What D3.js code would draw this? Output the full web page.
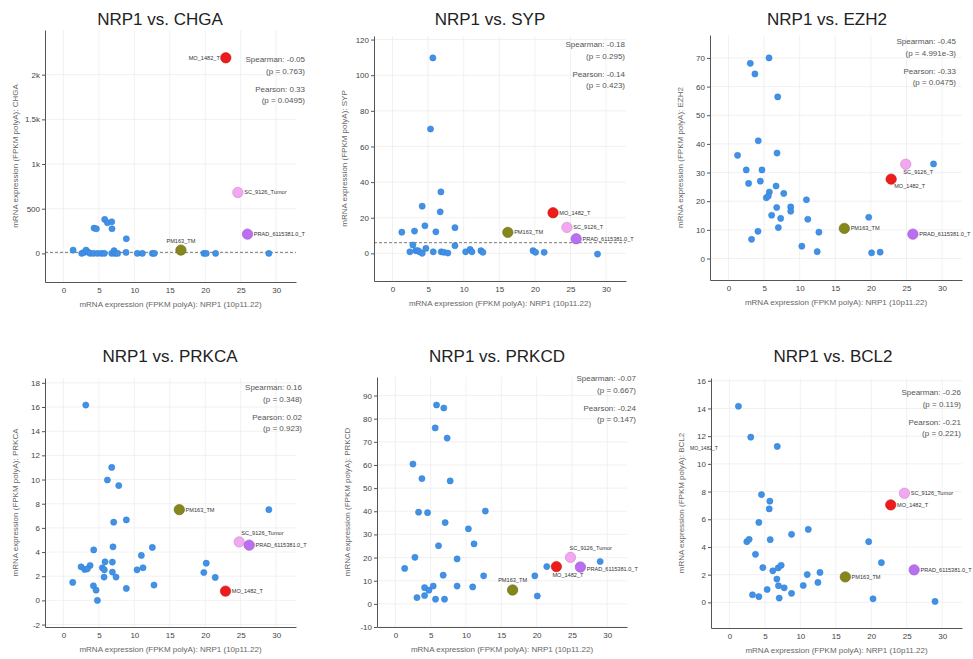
<!DOCTYPE html>
<html>
<head>
<meta charset="UTF-8">
<title>NRP1 correlations</title>
<script src="https://d3js.org/d3.v7.min.js"></script>
<style>
  body { margin: 0; background: #fff; }
  svg { font-family: "Liberation Sans", Arial, sans-serif; }
</style>
</head>
<body>
<script>
// ---- data (x = NRP1 FPKM, y = gene FPKM) ----
const nrp1Ticks = [0, 5, 10, 15, 20, 25, 30];

const chgaPoints = [[1.36,37],[2.58,0],[2.91,11],[3.19,37],[3.47,15],[3.76,0],[4.32,283],[4.65,276],[4.23,0],[4.79,0],
  [5.35,0],[5.77,0],[5.82,380],[6.2,343],[6.81,354],[6.85,276],[6.81,0],[7.14,30],[7.28,0],[7.65,0],
  [8.87,164],[8.83,11],[10.42,0],[11.13,0],[12.54,0],[12.82,0],[19.81,0],[20.14,0],[21.46,0],[28.97,0]];
const sypPoints = [[5.67,109.7],[5.34,69.8],[6.8,34.5],[4.17,26.5],[6.7,23.3],[1.31,11.9],[3.09,12.5],[4.55,15.5],[6.09,12.1],[8.77,14.4],
  [2.86,4.7],[8.77,4.3],[2.44,0.9],[3.28,1.5],[3.56,1.5],[3.8,0.9],[4.17,0],[4.69,2.8],[5.72,0.9],[6.84,0.9],[7.22,0.6],[7.78,0.2],
  [10.27,0.9],[10.9,2.2],[11.16,0.9],[12.42,1.5],[12.7,0.6],[19.74,1.5],[20.1,0.6],[21.3,0.6],[28.8,-0.4]];
const ezh2Points = [[1.27,36.0],[3.06,68.1],[3.71,64.4],[5.69,70.0],[6.91,56.4],[4.18,41.1],[6.82,36.8],[2.49,30.9],[4.7,30.9],[2.82,26.2],
  [4.47,27.0],[6.68,25.3],[5.74,23.2],[5.31,21.2],[5.59,21.8],[7.76,22.7],[6.77,17.8],[6.06,15.1],[7.33,14.0],[8.74,18.0],
  [8.74,16.5],[10.95,20.5],[11.14,13.7],[7.0,10.8],[4.14,9.5],[3.24,6.7],[10.3,4.3],[12.7,9.2],[12.46,2.4],[19.7,14.4],
  [20.1,2.0],[21.3,2.2],[28.8,33.0]];
const prkcaPoints = [[3.15,16.16],[6.81,11.0],[6.2,9.96],[7.8,9.5],[28.97,7.51],[8.87,6.66],[7.09,6.47],[4.27,4.18],[6.99,4.43],[12.54,4.38],
  [10.99,3.72],[6.9,3.17],[5.87,3.19],[20.14,3.08],[2.49,2.78],[3.76,2.89],[3.0,2.56],[3.38,2.61],[5.49,2.7],[5.77,2.53],
  [6.9,2.34],[10.38,2.53],[11.22,2.7],[19.8,2.31],[5.73,1.93],[7.42,1.93],[21.41,1.9],[1.31,1.49],[4.23,1.21],[4.6,0.85],
  [8.87,0.99],[12.77,1.27],[4.79,0]];
const prkcdPoints = [[1.32,15.3],[2.77,20.1],[2.49,60.4],[3.76,54.1],[3.29,39.6],[4.56,39.4],[5.83,85.9],[6.86,84.6],[5.64,76.0],[7.33,71.6],
  [7.76,53.1],[7.05,35.1],[6.11,25.1],[6.77,12.4],[8.74,19.4],[10.34,32.4],[11.14,25.9],[12.74,40.1],[12.5,12.1],[10.95,7.3],
  [8.74,7.7],[5.36,7.7],[4.14,7.0],[4.75,5.9],[4.14,3.6],[3.06,2.7],[5.69,2.0],[6.96,2.0],[19.75,12.1],[20.1,3.4],
  [21.44,16.1],[29.0,18.3]];
const bcl2Points = [[1.27,14.16],[3.01,11.93],[6.74,11.26],[4.52,7.78],[5.7,7.31],[5.61,6.75],[4.15,5.77],[8.76,4.91],[11.12,5.27],[19.64,4.38],
  [2.45,4.38],[2.78,4.55],[5.75,4.53],[3.67,3.47],[21.43,2.87],[4.71,2.51],[6.12,2.28],[6.88,2.49],[7.3,2.68],[12.77,2.16],
  [10.97,2.01],[6.69,1.68],[12.48,1.44],[6.92,1.2],[7.72,1.05],[10.41,1.22],[5.32,0.93],[3.25,0.55],[4.15,0.41],[8.76,0.65],
  [7.02,0.31],[20.25,0.26],[29.0,0.07]];

// highlighted samples: [sample key, label, x, y]
const chgaSpecials  = [["MO","MO_1482_T",22.9,2189],["SC","SC_9126_Tumor",24.6,682],["PRAD","PRAD_6115381.0_T",25.96,216],["PM","PM163_TM",16.57,37]];
const sypSpecials   = [["MO","MO_1482_T",22.55,22.8],["SC","SC_9126_T",24.5,14.6],["PRAD","PRAD_6115381.0_T",25.8,8.2],["PM","PM163_TM",16.2,11.8]];
const ezh2Specials  = [["MO","MO_1482_T",22.85,27.7],["SC","SC_9126_T",24.9,32.9],["PRAD","PRAD_6115381.0_T",25.9,8.5],["PM","PM163_TM",16.27,10.5]];
const prkcaSpecials = [["MO","MO_1482_T",22.86,0.77],["SC","SC_9126_Tumor",24.79,4.84],["PRAD","PRAD_6115381.0_T",26.2,4.57],["PM","PM163_TM",16.34,7.51]];
const prkcdSpecials = [["MO","MO_1482_T",22.8,16.1],["SC","SC_9126_Tumor",24.8,20.1],["PRAD","PRAD_6115381.0_T",26.2,15.9],["PM","PM163_TM",16.6,6.0]];
const bcl2Specials  = [["MO","MO_1482_T",22.75,7.04],["SC","SC_9126_Tumor",24.68,7.88],["PRAD","PRAD_6115381.0_T",26.05,2.35],["PM","PM163_TM",16.34,1.84]];

const chgaTicks  = [0, 500, 1000, 1500, 2000];
const sypTicks   = [0, 20, 40, 60, 80, 100, 120];
const ezh2Ticks  = [0, 10, 20, 30, 40, 50, 60, 70];
const prkcaTicks = [-2, 0, 2, 4, 6, 8, 10, 12, 14, 16, 18];
const prkcdTicks = [-10, 0, 10, 20, 30, 40, 50, 60, 70, 80, 90];
const bcl2Ticks  = [0, 2, 4, 6, 8, 10, 12, 14, 16];

const spearman = [["-0.05","0.763"],["-0.18","0.295"],["-0.45","4.991e-3"],["0.16","0.348"],["-0.07","0.667"],["-0.26","0.119"]];
const pearson  = [["0.33","0.0495"],["-0.14","0.423"],["-0.33","0.0475"],["0.02","0.923"],["-0.24","0.147"],["-0.21","0.221"]];
const refLines = [12, 6.0, null, null, null, null];

const genes = ["CHGA", "SYP", "EZH2", "PRKCA", "PRKCD", "BCL2"];

// ---- styling / layout ----
const colors = {
  MO:   ["#ee1b1b", "#c80f0f"],
  SC:   ["#f2a8f0", "#cc84cc"],
  PRAD: ["#ba6ff0", "#9a52d2"],
  PM:   ["#85861c", "#67680f"]
};
const blueFill = "#4191e6", blueStroke = "#2f7dd4";

const layout = [
  { box: [45, 30, 251, 252],  yDomain: [-320, 2500], statX: 305, statY: 62,  titleX: 160, titleY: 25 },
  { box: [374, 36, 252, 245], yDomain: [-15.5, 122], statX: 625, statY: 47,  titleX: 490, titleY: 25 },
  { box: [710, 35, 252, 245], yDomain: [-7.5, 78],   statX: 956, statY: 44,  titleX: 827, titleY: 25 },
  { box: [45, 378, 251, 249], yDomain: [-2.2, 18.4], statX: 302, statY: 390, titleX: 170, titleY: 362 },
  { box: [377, 377, 250, 250],yDomain: [-10, 98],    statX: 636, statY: 381, titleX: 497, titleY: 362 },
  { box: [711, 378, 251, 250],yDomain: [-1.85, 16.2],statX: 961, statY: 395, titleX: 833, titleY: 362 }
];

// label placement [dx, dy, anchor] per sample, per panel
const labelPlace = [
  { MO: [-6, 2, "end"], SC: [6.3, 2, "start"], PRAD: [6.3, 2, "start"], PM: [0, -7.5, "middle"] },
  { MO: [6.3, 2, "start"], SC: [6.3, 2, "start"], PRAD: [6.3, 2, "start"], PM: [6.3, 2, "start"] },
  { MO: [3, 9, "start"], SC: [-2.5, 9.5, "start"], PRAD: [6.3, 2, "start"], PM: [6.3, 2, "start"] },
  { MO: [6.3, 2, "start"], SC: [2, -7, "start"], PRAD: [6.3, 2, "start"], PM: [6.3, 2, "start"] },
  { MO: [-4, 10.5, "start"], SC: [-1, -7, "start"], PRAD: [6.3, 3.5, "start"], PM: [0, -7.5, "middle"] },
  { MO: [6.3, 2, "start"], SC: [6.3, 2, "start"], PRAD: [6.3, 2, "start"], PM: [6.3, 2, "start"] }
];

const allPoints = [chgaPoints, sypPoints, ezh2Points, prkcaPoints, prkcdPoints, bcl2Points];
const allSpecials = [chgaSpecials, sypSpecials, ezh2Specials, prkcaSpecials, prkcdSpecials, bcl2Specials];
const allTicks = [chgaTicks, sypTicks, ezh2Ticks, prkcaTicks, prkcdTicks, bcl2Ticks];

const svg = d3.select("body").append("svg")
  .attr("width", 973)
  .attr("height", 659);

function drawPanel(i) {
  const L = layout[i];
  const [left, top, w, h] = L.box;

  const x = d3.scaleLinear().domain([-2.6, 32.8]).range([0, w]);
  const y = d3.scaleLinear().domain(L.yDomain).range([h, 0]);

  const g = svg.append("g").attr("transform", "translate(" + left + "," + top + ")");

  // grid
  g.append("g").selectAll("line").data(nrp1Ticks).join("line")
    .attr("x1", d => x(d)).attr("x2", d => x(d)).attr("y1", 0).attr("y2", h)
    .attr("stroke", "#eeeeee").attr("stroke-width", 0.8);
  g.append("g").selectAll("line").data(allTicks[i]).join("line")
    .attr("y1", d => y(d)).attr("y2", d => y(d)).attr("x1", 0).attr("x2", w)
    .attr("stroke", "#eeeeee").attr("stroke-width", 0.8);

  // axes
  const fmt = i === 0 ? (d => d === 0 ? "0" : (d >= 1000 ? (d / 1000) + "k" : d)) : (d => d);
  const ya = g.append("g")
    .call(d3.axisLeft(y).tickValues(allTicks[i]).tickFormat(fmt).tickSize(3).tickSizeOuter(0).tickPadding(2));
  const xa = g.append("g")
    .attr("transform", "translate(0," + h + ")")
    .call(d3.axisBottom(x).tickValues(nrp1Ticks).tickSize(0).tickSizeOuter(0).tickPadding(5));
  [ya, xa].forEach(a => {
    a.select(".domain").attr("stroke", "#555").attr("stroke-width", 1);
    a.selectAll(".tick line").attr("stroke", "#555");
    a.selectAll("text").attr("fill", "#444").style("font-size", "8px")
      .style("font-family", "'Liberation Sans', Arial, sans-serif");
  });

  // reference line
  if (refLines[i] !== null) {
    g.append("line")
      .attr("x1", 0).attr("x2", w)
      .attr("y1", y(refLines[i])).attr("y2", y(refLines[i]))
      .attr("stroke", "#555").attr("stroke-width", 0.8)
      .attr("stroke-dasharray", "3,2");
  }

  // regular points
  g.append("g").selectAll("circle").data(allPoints[i]).join("circle")
    .attr("cx", d => x(d[0])).attr("cy", d => y(d[1]))
    .attr("r", 3.1)
    .attr("fill", blueFill).attr("stroke", blueStroke).attr("stroke-width", 0.5);

  // highlighted samples
  const sp = g.append("g").selectAll("g").data(allSpecials[i]).join("g");
  sp.append("circle")
    .attr("cx", d => x(d[2])).attr("cy", d => y(d[3]))
    .attr("r", 5.2)
    .attr("fill", d => colors[d[0]][0]).attr("stroke", d => colors[d[0]][1]).attr("stroke-width", 0.6);
  sp.append("text")
    .attr("x", d => x(d[2]) + labelPlace[i][d[0]][0])
    .attr("y", d => y(d[3]) + labelPlace[i][d[0]][1])
    .attr("text-anchor", d => labelPlace[i][d[0]][2])
    .attr("fill", "#333").style("font-size", "5.6px")
    .text(d => d[1]);

  // axis titles
  g.append("text")
    .attr("x", w / 2).attr("y", h + 25)
    .attr("text-anchor", "middle").attr("fill", "#666").style("font-size", "8px")
    .text("mRNA expression (FPKM polyA): NRP1 (10p11.22)");
  g.append("text")
    .attr("transform", "rotate(-90)")
    .attr("x", -h / 2).attr("y", -30)
    .attr("dy", "0.35em")
    .attr("text-anchor", "middle").attr("fill", "#666").style("font-size", "8px")
    .text("mRNA expression (FPKM polyA): " + genes[i]);

  // correlation stats
  const lines = [
    ["Spearman: " + spearman[i][0], 0],
    ["(p = " + spearman[i][1] + ")", 12],
    ["Pearson: " + pearson[i][0], 30],
    ["(p = " + pearson[i][1] + ")", 41]
  ];
  svg.append("g").selectAll("text").data(lines).join("text")
    .attr("x", L.statX).attr("y", d => L.statY + d[1])
    .attr("text-anchor", "end").attr("fill", "#555").style("font-size", "8px")
    .text(d => d[0]);

  // title
  svg.append("text")
    .attr("x", L.titleX).attr("y", L.titleY)
    .attr("text-anchor", "middle").attr("fill", "#222").style("font-size", "17px")
    .text("NRP1 vs. " + genes[i]);
}

genes.forEach((gname, i) => drawPanel(i));

// stray label drawn over the BCL2 y-axis title in the original
svg.append("text")
  .attr("x", 690).attr("y", 450)
  .attr("fill", "#333").style("font-size", "5px")
  .text("MO_1482_T");
</script>
</body>
</html>
